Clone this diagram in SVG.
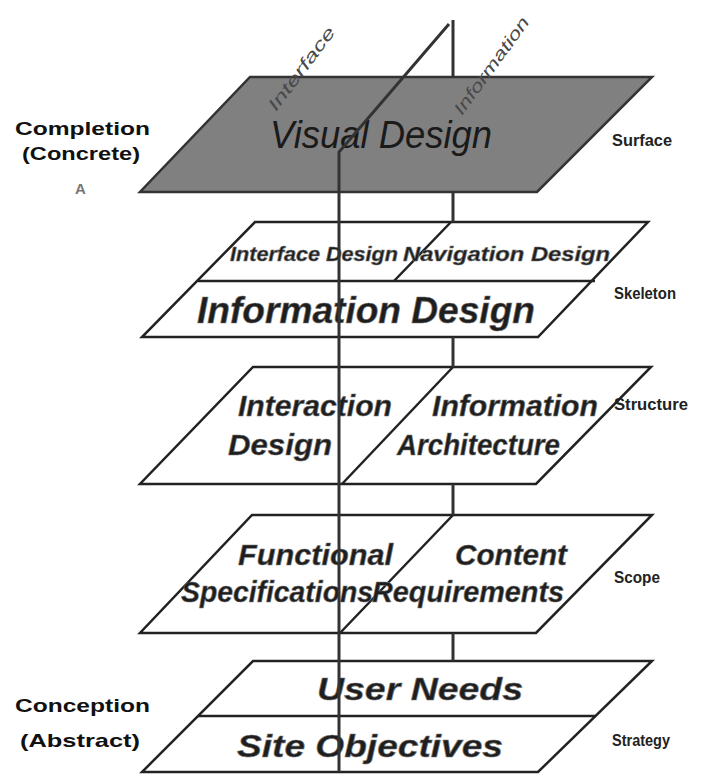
<svg xmlns="http://www.w3.org/2000/svg" width="717" height="776" viewBox="0 0 717 776">
<style>
.plane{fill:#fff;stroke:#222;stroke-width:2.5;stroke-linejoin:miter}
.surf{fill:#808080;stroke:#333;stroke-width:2.5}
.div{fill:none;stroke:#222;stroke-width:2.5}
.conn{fill:none;stroke:#333;stroke-width:3}
.t{font-family:"Liberation Sans",Arial,sans-serif;font-style:italic;font-weight:bold;fill:#1e1e1e;stroke:#777;stroke-width:0.6}
.vd{font-family:"Liberation Sans",Arial,sans-serif;font-style:italic;font-weight:normal;fill:#1a1a1a}
.rot{font-family:"Liberation Sans",Arial,sans-serif;font-style:italic;fill:#4a4a4a}
.lab{font-family:"Liberation Sans",Arial,sans-serif;font-weight:bold;fill:#222;font-size:17px}
.side{font-family:"Liberation Sans",Arial,sans-serif;font-weight:bold;fill:#111;font-size:19px}
</style>
<g id="surface">
<polygon class="surf" points="250,77 652,77 537,192 140,192"/>
<text class="vd" x="270" y="148" font-size="38" textLength="222" lengthAdjust="spacingAndGlyphs">Visual Design</text>
<text class="rot" font-size="17" transform="translate(276,112) rotate(-53)" textLength="100" lengthAdjust="spacingAndGlyphs">Interface</text>
<text class="rot" font-size="17" transform="translate(462,116) rotate(-54)" textLength="116" lengthAdjust="spacingAndGlyphs">Information</text>
</g>
<g id="skeleton">
<polygon class="plane" points="255,222 648,222 538,337 142,337"/>
<line class="div" x1="198" y1="281" x2="595" y2="281"/>
<line class="div" x1="451" y1="222" x2="394" y2="281"/>
<text class="t" x="230" y="261" font-size="20" textLength="168" lengthAdjust="spacingAndGlyphs">Interface Design</text>
<text class="t" x="403" y="261" font-size="20" textLength="207" lengthAdjust="spacingAndGlyphs">Navigation Design</text>
<text class="t" x="197" y="323" font-size="36" textLength="338" lengthAdjust="spacingAndGlyphs">Information Design</text>
</g>
<g id="structure">
<polygon class="plane" points="253,367 651,367 536,484 140,484"/>
<line class="div" x1="453" y1="367" x2="342" y2="484"/>
<text class="t" x="238" y="416" font-size="30" textLength="154" lengthAdjust="spacingAndGlyphs">Interaction</text>
<text class="t" x="228" y="455" font-size="30" textLength="104" lengthAdjust="spacingAndGlyphs">Design</text>
<text class="t" x="432" y="416" font-size="30" textLength="166" lengthAdjust="spacingAndGlyphs">Information</text>
<text class="t" x="397" y="455" font-size="30" textLength="163" lengthAdjust="spacingAndGlyphs">Architecture</text>
</g>
<g id="scope">
<polygon class="plane" points="252,515 652,515 536,633 140,633"/>
<line class="div" x1="453" y1="515" x2="340" y2="633"/>
<text class="t" x="238" y="565" font-size="30" textLength="155" lengthAdjust="spacingAndGlyphs">Functional</text>
<text class="t" x="181" y="602" font-size="30" textLength="192" lengthAdjust="spacingAndGlyphs">Specifications</text>
<text class="t" x="455" y="565" font-size="30" textLength="112" lengthAdjust="spacingAndGlyphs">Content</text>
<text class="t" x="372" y="602" font-size="30" textLength="192" lengthAdjust="spacingAndGlyphs">Requirements</text>
</g>
<g id="strategy">
<polygon class="plane" points="253,661 652,661 538,772 142,772"/>
<line class="div" x1="198" y1="716" x2="596" y2="716"/>
<text class="t" x="317" y="700" font-size="32" textLength="206" lengthAdjust="spacingAndGlyphs">User Needs</text>
<text class="t" x="237" y="757" font-size="32" textLength="266" lengthAdjust="spacingAndGlyphs">Site Objectives</text>
</g>
<g id="layer-labels">
<text class="lab" x="612" y="146" textLength="60" lengthAdjust="spacingAndGlyphs">Surface</text>
<text class="lab" x="614" y="299" textLength="62" lengthAdjust="spacingAndGlyphs">Skeleton</text>
<text class="lab" x="614" y="410" textLength="74" lengthAdjust="spacingAndGlyphs">Structure</text>
<text class="lab" x="614" y="583" textLength="46" lengthAdjust="spacingAndGlyphs">Scope</text>
<text class="lab" x="612" y="746" textLength="58" lengthAdjust="spacingAndGlyphs">Strategy</text>
</g>
<g id="completion">
<text class="side" x="15" y="135" textLength="135" lengthAdjust="spacingAndGlyphs">Completion</text>
<text class="side" x="22" y="160" textLength="118" lengthAdjust="spacingAndGlyphs">(Concrete)</text>
<text x="75" y="194" font-family="Liberation Sans,Arial,sans-serif" font-weight="bold" font-size="15" fill="#777">A</text>
</g>
<g id="conception">
<text class="side" x="15" y="712" textLength="135" lengthAdjust="spacingAndGlyphs">Conception</text>
<text class="side" x="20" y="747" textLength="120" lengthAdjust="spacingAndGlyphs">(Abstract)</text>
</g>
<g id="connectors">
<path class="conn" d="M453,20 V77 M453,192 V222 M453,337 V367 M453,484 V515 M453,633 V661"/>
<path class="conn" d="M339,772 V152 L449,24"/>
</g>
</svg>
